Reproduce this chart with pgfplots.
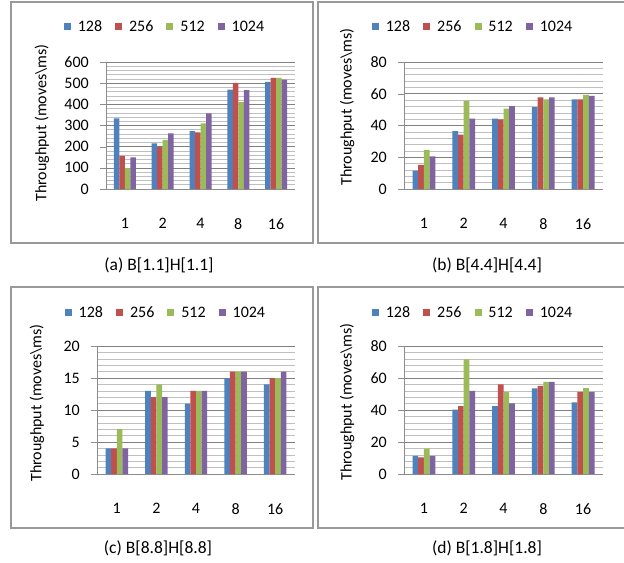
\documentclass[border=0pt]{standalone}
\usepackage{fontspec}
\setmainfont{Carlito}
\usepackage{pgfplots}
\pgfplotsset{compat=1.18}
\definecolor{c1}{HTML}{4F81BD}
\definecolor{c2}{HTML}{C0504D}
\definecolor{c3}{HTML}{9BBB59}
\definecolor{c4}{HTML}{8064A2}
\newcommand{\fs}{\fontsize{16bp}{19bp}\selectfont}
\newcommand{\fcap}{\fontsize{17.5bp}{20bp}\selectfont}
\pgfplotsset{
  panel/.style={
    scale only axis, anchor=south west,
    ybar=0pt, xmin=-0.5, xmax=4.5, ymin=0,
    xtick={0,1,2,3,4}, xticklabels={1,2,4,8,16},
    axis x line*=bottom, axis y line*=left,
    axis line style={draw=black!45,-},
    ymajorgrids, yminorgrids,
    major grid style={draw=black!50, line width=0.6bp},
    minor grid style={draw=black!25, line width=0.6bp},
    minor y tick num=4,
    tick align=outside, major tick length=6bp, minor tick length=0pt,
    xtick style={draw=none}, ytick style={draw=black!45},
    /pgf/number format/assume math mode=true,
    yticklabel style={font=\fs, anchor=east, inner sep=0pt, xshift=-11bp},
    xticklabel style={font=\fs, anchor=north, inner sep=0pt, yshift=-23bp},
    ylabel={Throughput (moves\textbackslash ms)},
    ylabel style={font=\fs, rotate=0, anchor=center},
    legend columns=4,
    legend image code/.code={\fill[#1] (0bp,-3.5bp) rectangle (7bp,3.5bp);},
    legend style={draw=none, fill=none, anchor=center, font=\fs,
      /tikz/every odd column/.append style={column sep=5bp},
      /tikz/every even column/.append style={column sep=11bp}},
  },
  b1/.style={fill=c1, draw=none},
  b2/.style={fill=c2, draw=none},
  b3/.style={fill=c3, draw=none},
  b4/.style={fill=c4, draw=none},
}
\begin{document}
\begin{tikzpicture}
\useasboundingbox (0,0) rectangle (624bp,-563bp);
\fill[white] (0,0) rectangle (624bp,-563bp);
\draw[black!40, line width=1.3bp] (11bp,-2bp) rectangle (313bp,-243bp);
\draw[black!40, line width=1.3bp] (318bp,-2bp) rectangle (630bp,-243bp);
\draw[black!40, line width=1.3bp] (11bp,-287bp) rectangle (313bp,-528bp);
\draw[black!40, line width=1.3bp] (318bp,-287bp) rectangle (630bp,-528bp);

% (a)
\begin{axis}[panel, at={(106bp,-189bp)}, width=189bp, height=127bp,
  bar width=5.5bp, ymax=600, ytick={0,100,...,600},
  ylabel style={at={(axis description cs:-0.339,0.52)}},
  legend style={at={(0.312,1.276)}}]
\addplot[b1] coordinates {(0,334) (1,215) (2,274) (3,470) (4,506)};
\addplot[b2] coordinates {(0,157) (1,200) (2,268) (3,501) (4,525)};
\addplot[b3] coordinates {(0,99) (1,232) (2,310) (3,411) (4,525)};
\addplot[b4] coordinates {(0,150) (1,263) (2,357) (3,467) (4,517)};
\legend{128,256,512,1024}
\end{axis}

% (b)
\begin{axis}[panel, at={(404bp,-189bp)}, width=199bp, height=127bp,
  bar width=5.7bp, ymax=80, ytick={0,20,...,80},
  ylabel style={at={(axis description cs:-0.286,0.646)}},
  legend style={at={(0.347,1.276)}}]
\addplot[b1] coordinates {(0,11.5) (1,36.5) (2,44.3) (3,51.6) (4,56.4)};
\addplot[b2] coordinates {(0,15.2) (1,34.2) (2,43.8) (3,57.8) (4,56.4)};
\addplot[b3] coordinates {(0,24.6) (1,55.5) (2,50.7) (3,56.4) (4,59.3)};
\addplot[b4] coordinates {(0,20.5) (1,44.3) (2,52.2) (3,57.8) (4,58.7)};
\legend{128,256,512,1024}
\end{axis}

% (c)
\begin{axis}[panel, at={(97bp,-474bp)}, width=198bp, height=128bp,
  bar width=5.6bp, ymax=20, ytick={0,5,...,20},
  ylabel style={at={(axis description cs:-0.303,0.555)}},
  legend style={at={(0.348,1.258)}}]
\addplot[b1] coordinates {(0,4) (1,13) (2,11) (3,15) (4,14)};
\addplot[b2] coordinates {(0,4) (1,12) (2,13) (3,16) (4,15)};
\addplot[b3] coordinates {(0,7) (1,14) (2,13) (3,16) (4,15)};
\addplot[b4] coordinates {(0,4) (1,12) (2,13) (3,16) (4,16)};
\legend{128,256,512,1024}
\end{axis}

% (d)
\begin{axis}[panel, at={(404bp,-474bp)}, width=199bp, height=128bp,
  bar width=5.7bp, ymax=80, ytick={0,20,...,80},
  ylabel style={at={(axis description cs:-0.286,0.5625)}},
  legend style={at={(0.347,1.258)}}]
\addplot[b1] coordinates {(0,11.4) (1,40.2) (2,42.5) (3,53.5) (4,44.8)};
\addplot[b2] coordinates {(0,10.4) (1,42.5) (2,56.0) (3,55.1) (4,51.4)};
\addplot[b3] coordinates {(0,15.8) (1,71.7) (2,51.4) (3,57.6) (4,53.7)};
\addplot[b4] coordinates {(0,11.4) (1,52.0) (2,44.1) (3,57.6) (4,51.4)};
\legend{128,256,512,1024}
\end{axis}

\node[font=\fcap] at (159bp,-265bp) {(a) B[1.1]H[1.1]};
\node[font=\fcap] at (487bp,-265bp) {(b) B[4.4]H[4.4]};
\node[font=\fcap] at (158bp,-548bp) {(c) B[8.8]H[8.8]};
\node[font=\fcap] at (487bp,-548bp) {(d) B[1.8]H[1.8]};
\end{tikzpicture}
\end{document}
